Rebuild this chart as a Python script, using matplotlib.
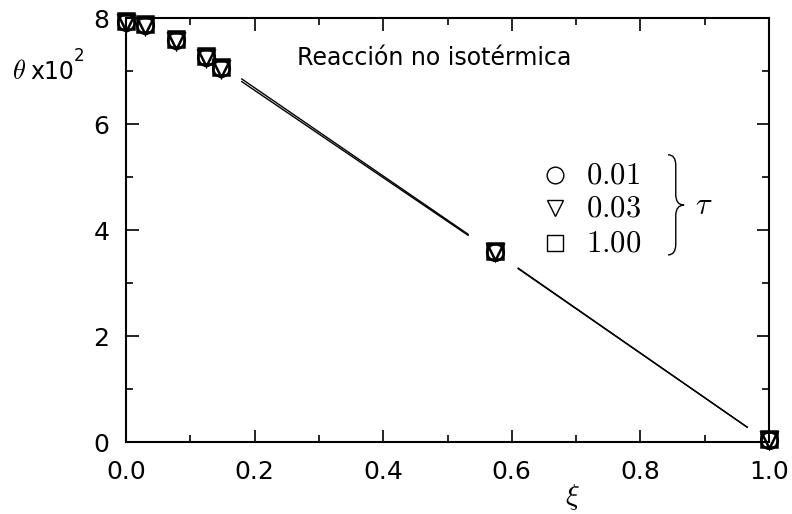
import numpy as np
import matplotlib
matplotlib.use("Agg")
import matplotlib.pyplot as plt
from matplotlib.path import Path
from matplotlib.patches import PathPatch

plt.rcParams['mathtext.fontset'] = 'cm'

# Simulated points for three values of tau
xi = [0.0, 0.03, 0.078, 0.124, 0.147, 0.574, 1.0]
theta_t001 = [7.92, 7.86, 7.58, 7.26, 7.06, 3.58, 0.04]
theta_t003 = [7.90, 7.84, 7.56, 7.24, 7.04, 3.58, 0.04]
theta_t100 = [7.94, 7.88, 7.60, 7.28, 7.08, 3.60, 0.06]

# Analytical solution curves (two nearly coincident branches, gap around the marker)
line_x = [0.18, 0.532, np.nan, 0.61, 0.966]
line_a = [6.85, 3.92, np.nan, 3.28, 0.28]
line_b = [6.80, 3.90, np.nan, 3.27, 0.28]

tau_labels = ["0.01", "0.03", "1.00"]

fig = plt.figure(figsize=(7.92, 5.14), dpi=100)
ax = fig.add_axes([126/792, 1-442/514, (769-126)/792, (442-18)/514])

ax.plot(line_x, line_a, color='black', lw=1.0)
ax.plot(line_x, line_b, color='black', lw=1.0)

mk = dict(ls='none', mfc='none', mec='black', ms=12, mew=1.8, clip_on=False, zorder=5)
ax.plot(xi, theta_t001, marker='o', **mk)
ax.plot(xi, theta_t003, marker='v', **mk)
ax.plot(xi, theta_t100, marker='s', **mk)

ax.set_xlim(0, 1.0)
ax.set_ylim(0, 8)
ax.set_xticks([0.0, 0.2, 0.4, 0.6, 0.8, 1.0])
ax.set_xticks(np.arange(0.1, 1.0, 0.2), minor=True)
ax.set_yticks([0, 2, 4, 6, 8])
ax.set_yticks([1, 3, 5, 7], minor=True)
ax.set_xticklabels(["0.0", "0.2", "0.4", "0.6", "0.8", "1.0"])
ax.set_yticklabels(["0", "2", "4", "6", "8"])
ax.tick_params(which='both', direction='in', top=True, right=True,
               labelsize=18, width=1.2)
ax.tick_params(axis='x', pad=13)
ax.tick_params(axis='y', pad=12)
ax.tick_params(which='major', length=9)
ax.tick_params(which='minor', length=5)
for s in ax.spines.values():
    s.set_linewidth(1.5)

ax.text(0.266, 7.25, "Reacción no isotérmica", fontsize=17, ha='left', va='center')

# Legend entries
leg_y = [5.04, 4.42, 3.75]
leg_marks = ['o', 'v', 's']
for yy, m, lab in zip(leg_y, leg_marks, tau_labels):
    ax.plot([0.667], [yy], marker=m, ls='none', mfc='none', mec='black',
            ms=12, mew=1.0)
    ax.text(0.715, yy, "$" + lab + "$", fontsize=22, va='center', ha='left')

# Curly brace grouping the legend
bx0, bx1, bxt = 0.843, 0.855, 0.868
by_top, by_bot, by_mid = 5.42, 3.53, 4.47
verts = [
    (bx0, by_top), (bx1, by_top), (bx1, by_top - 0.2),
    (bx1, by_mid + 0.2),
    (bx1, by_mid), (bxt, by_mid),
    (bx1, by_mid), (bx1, by_mid - 0.2),
    (bx1, by_bot + 0.2),
    (bx1, by_bot), (bx0, by_bot),
]
codes = [Path.MOVETO, Path.CURVE3, Path.CURVE3,
         Path.LINETO,
         Path.CURVE3, Path.CURVE3,
         Path.CURVE3, Path.CURVE3,
         Path.LINETO,
         Path.CURVE3, Path.CURVE3]
ax.add_patch(PathPatch(Path(verts, codes), fc='none', ec='black', lw=1.0))
ax.text(0.885, by_mid, r"$\tau$", fontsize=22, va='center', ha='left')

fig.text(12/792, 1-72/514, r"$\theta$", fontsize=19, va='center', ha='left')
fig.text(30/792, 1-72/514, "x10", fontsize=17, va='center', ha='left')
fig.text(74/792, 1-56/514, "2", fontsize=12, va='center', ha='left')
fig.text(572/792, 1-497/514, r"$\xi$", fontsize=21, va='center', ha='center')

fig.savefig("out.png", dpi=100)
